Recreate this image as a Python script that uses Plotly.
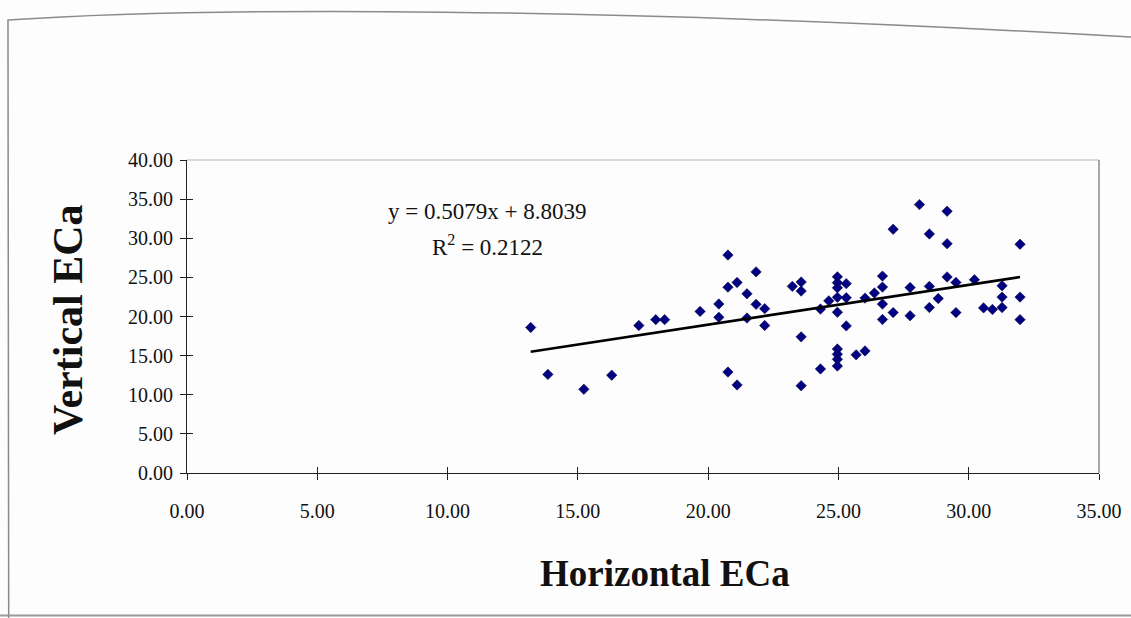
import plotly.graph_objects as go

# ---- data ----
horizontal_eca = [
    13.19, 13.85, 15.23, 16.30, 17.34, 17.99, 18.33, 19.69, 20.41, 20.41,
    20.76, 20.76, 21.11, 20.76, 21.11, 21.49, 21.84, 21.84, 22.17, 22.17, 21.49,
    23.23, 23.57, 23.57, 23.57, 23.57, 24.31, 24.31, 24.63,
    24.96, 24.96, 24.96, 24.96, 24.96, 24.96, 24.96, 24.96, 24.96,
    25.30, 25.30, 25.30, 25.68, 26.02, 26.02, 26.38,
    26.69, 26.69, 26.69, 26.69, 27.10, 27.10, 27.75, 27.75, 28.11,
    28.49, 28.49, 28.49, 28.83, 29.17, 29.17, 29.17, 29.51, 29.51,
    30.22, 30.57, 30.91, 31.28, 31.28, 31.28, 31.97, 31.97, 31.97,
]
vertical_eca = [
    18.60, 12.60, 10.70, 12.50, 18.85, 19.60, 19.60, 20.65, 21.60, 19.90,
    27.85, 23.75, 24.35, 12.90, 11.25, 22.90, 25.70, 21.55, 21.00, 18.85, 19.80,
    23.85, 24.40, 23.25, 17.40, 11.15, 13.30, 20.95, 22.00,
    25.07, 24.32, 23.67, 22.45, 20.54, 15.84, 15.18, 14.53, 13.67,
    24.20, 22.40, 18.80, 15.10, 15.60, 22.35, 23.00,
    25.16, 23.76, 21.59, 19.62, 31.15, 20.50, 23.70, 20.10, 34.30,
    30.55, 23.85, 21.15, 22.30, 33.45, 29.30, 25.05, 24.35, 20.50,
    24.70, 21.10, 20.90, 23.93, 22.48, 21.15, 29.23, 22.48, 19.60,
]
trend_slope = 0.5079
trend_intercept = 8.8039
r_squared = 0.2122

x_tick_vals = [0, 5, 10, 15, 20, 25, 30, 35]
y_tick_vals = [0, 5, 10, 15, 20, 25, 30, 35, 40]

x_title = "Horizontal ECa"
y_title = "Vertical ECa"

# ---- figure ----
FONT = "Liberation Serif"
trend_x = [min(horizontal_eca), max(horizontal_eca)]
trend_y = [trend_slope * v + trend_intercept for v in trend_x]

fig = go.Figure()
fig.add_trace(go.Scatter(
    x=horizontal_eca, y=vertical_eca, mode="markers",
    marker=dict(symbol="diamond", size=8, color="#000080",
                line=dict(width=0.6, color="#0a0a50")),
    showlegend=False, hoverinfo="x+y",
))
fig.add_trace(go.Scatter(
    x=trend_x, y=trend_y, mode="lines",
    line=dict(color="#000000", width=2.6),
    showlegend=False, hoverinfo="skip",
))
# invisible trace on overlay axes (used to draw the inner half of crossing ticks)
fig.add_trace(go.Scatter(
    x=horizontal_eca, y=vertical_eca, xaxis="x2", yaxis="y2",
    mode="markers", marker=dict(opacity=0), showlegend=False, hoverinfo="skip",
))

axis_common = dict(showgrid=False, zeroline=False, automargin=False)
fig.update_layout(
    width=1131, height=618,
    margin=dict(l=187, r=32, t=160, b=145),
    paper_bgcolor="#fdfdfd", plot_bgcolor="#fdfdfd",
    font=dict(family=FONT, color="#111111"),
    xaxis=dict(range=[0, 35], tickvals=x_tick_vals, tickformat=".2f",
               ticks="outside", ticklen=6, tickwidth=1, tickcolor="#222",
               showline=True, linecolor="#222", linewidth=1.2,
               tickfont=dict(family=FONT, size=20, color="#111"),
               ticklabelstandoff=14, **axis_common),
    yaxis=dict(range=[0, 40], tickvals=y_tick_vals, tickformat=".2f",
               ticks="outside", ticklen=6, tickwidth=1, tickcolor="#222",
               showline=True, linecolor="#222", linewidth=1.2,
               tickfont=dict(family=FONT, size=20, color="#111"),
               ticklabelstandoff=3, **axis_common),
    xaxis2=dict(range=[0, 35], tickvals=x_tick_vals, overlaying="x", anchor="y2",
                side="bottom", ticks="inside", ticklen=6, tickcolor="#222",
                showticklabels=False, showline=False, **axis_common),
    yaxis2=dict(range=[0, 40], tickvals=y_tick_vals, overlaying="y", anchor="x2",
                side="left", ticks="inside", ticklen=6, tickcolor="#222",
                showticklabels=False, showline=False, **axis_common),
)

# plot-area frame (top light, right darker)
fig.add_shape(type="line", xref="paper", yref="paper", x0=0, y0=1, x1=1, y1=1,
              line=dict(color="#b5b5b5", width=1), layer="below")
fig.add_shape(type="line", xref="paper", yref="paper", x0=1, y0=0, x1=1, y1=1,
              line=dict(color="#555555", width=1), layer="below")

# outer chart border (paper edge as photographed)
fig.add_shape(type="path", xref="paper", yref="paper",
              path="M -0.1955,-0.47 L -0.1963,1.447 C 0.02,1.49 0.45,1.49 1.04,1.392",
              line=dict(color="#8a8a8a", width=1.5))
fig.add_shape(type="line", xref="paper", yref="paper", x0=-0.21, y0=-0.455, x1=1.04, y1=-0.455,
              line=dict(color="#9a9a9a", width=2))

# equation annotations
fig.add_annotation(xref="paper", yref="paper", x=0.329, y=0.834,
                   text=f"y = {trend_slope}x + {trend_intercept}", showarrow=False,
                   font=dict(family=FONT, size=23, color="#111"), xanchor="center", yanchor="middle")
fig.add_annotation(xref="paper", yref="paper", x=0.329, y=0.728,
                   text=f"R<sup>2</sup> = {r_squared}", showarrow=False,
                   font=dict(family=FONT, size=23, color="#111"), xanchor="center", yanchor="middle")

# axis titles
fig.add_annotation(xref="paper", yref="paper", x=(665 - 187) / 912, y=(473 - 573) / 313,
                   text=f"<b>{x_title}</b>", showarrow=False,
                   font=dict(family=FONT, size=37, color="#111"), xanchor="center", yanchor="middle")
fig.add_annotation(xref="paper", yref="paper", x=(68 - 187) / 912, y=(473 - 320) / 313,
                   text=f"<b>{y_title}</b>", showarrow=False, textangle=-90,
                   font=dict(family=FONT, size=42, color="#111"), xanchor="center", yanchor="middle")

fig.write_html("out.html")
